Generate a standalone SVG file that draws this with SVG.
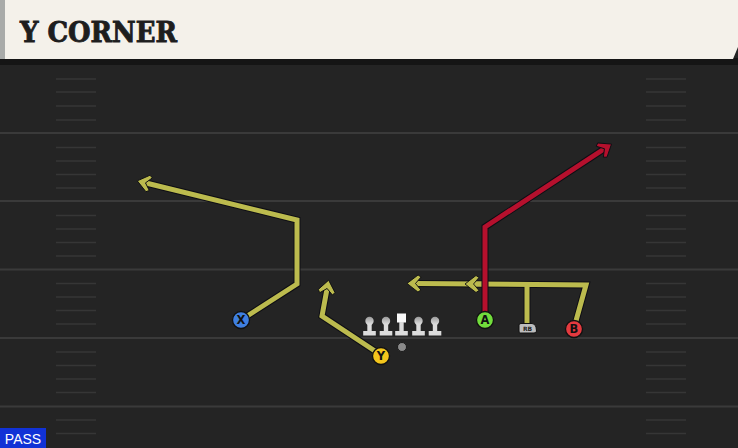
<svg xmlns="http://www.w3.org/2000/svg" width="738" height="448" viewBox="0 0 738 448">
<defs>
<style>
.yl{stroke:#3a3a3a;stroke-width:2}
.hm{stroke:#363636;stroke-width:1.5}
.o{fill:none;stroke:#0e0e14;stroke-width:7;stroke-linejoin:miter;stroke-linecap:butt}
.ry{fill:none;stroke:#bcbb4e;stroke-width:5;stroke-linejoin:miter}
.rr{fill:none;stroke:#b5102d;stroke-width:5;stroke-linejoin:miter}
.lt{font-family:"DejaVu Sans","Liberation Sans",sans-serif;font-weight:bold;font-size:11.5px;fill:#111;text-anchor:middle}
</style>
<marker id="ay" markerUnits="userSpaceOnUse" markerWidth="28" markerHeight="28" viewBox="-14 -14 28 28" refX="-3" refY="0" orient="auto">
<path d="M6,0 L-5,-8.5 L-8,-6.5 L-2.5,0 L-8,6.5 L-5,8.5 Z" fill="#bcbb4e" stroke="#0e0e14" stroke-width="0.9" stroke-linejoin="miter"/>
</marker>
<marker id="ar" markerUnits="userSpaceOnUse" markerWidth="28" markerHeight="28" viewBox="-14 -14 28 28" refX="-3" refY="0" orient="auto">
<path d="M6,0 L-5,-8.5 L-8,-6.5 L-2.5,0 L-8,6.5 L-5,8.5 Z" fill="#b5102d" stroke="#0e0e14" stroke-width="0.9" stroke-linejoin="miter"/>
</marker>
<linearGradient id="hg" x1="0" y1="0" x2="0" y2="1">
<stop offset="0" stop-color="#9a9a9a"/><stop offset="1" stop-color="#e6e6e6"/>
</linearGradient>
<g id="lm">
<circle cx="0" cy="-10" r="4.2" fill="url(#hg)"/>
<rect x="-2.2" y="-7" width="4.4" height="8" fill="#dcdcdc"/>
<rect x="-6.3" y="0" width="12.6" height="4.5" fill="#dcdcdc"/>
</g>
</defs>
<rect width="738" height="448" fill="#242424"/>
<g id="field">
<rect x="0" y="58" width="738" height="7" fill="#151515"/>
<line class="yl" x1="0" y1="133" x2="738" y2="133"/>
<line class="yl" x1="0" y1="201" x2="738" y2="201"/>
<line class="yl" x1="0" y1="269.5" x2="738" y2="269.5"/>
<line class="yl" x1="0" y1="338" x2="738" y2="338"/>
<line class="yl" x1="0" y1="406.5" x2="738" y2="406.5"/>
<g class="hm">
<line x1="56" y1="79" x2="96" y2="79"/><line x1="56" y1="92" x2="96" y2="92"/><line x1="56" y1="106" x2="96" y2="106"/><line x1="56" y1="120" x2="96" y2="120"/>
<line x1="56" y1="147.5" x2="96" y2="147.5"/><line x1="56" y1="161" x2="96" y2="161"/><line x1="56" y1="174.5" x2="96" y2="174.5"/><line x1="56" y1="188" x2="96" y2="188"/>
<line x1="56" y1="215.5" x2="96" y2="215.5"/><line x1="56" y1="229" x2="96" y2="229"/><line x1="56" y1="242.5" x2="96" y2="242.5"/><line x1="56" y1="256" x2="96" y2="256"/>
<line x1="56" y1="283.5" x2="96" y2="283.5"/><line x1="56" y1="297" x2="96" y2="297"/><line x1="56" y1="310.5" x2="96" y2="310.5"/><line x1="56" y1="324" x2="96" y2="324"/>
<line x1="56" y1="352" x2="96" y2="352"/><line x1="56" y1="365.5" x2="96" y2="365.5"/><line x1="56" y1="379" x2="96" y2="379"/><line x1="56" y1="392.5" x2="96" y2="392.5"/>
<line x1="56" y1="420" x2="96" y2="420"/><line x1="56" y1="433.5" x2="96" y2="433.5"/>
<line x1="646" y1="79" x2="686" y2="79"/><line x1="646" y1="92" x2="686" y2="92"/><line x1="646" y1="106" x2="686" y2="106"/><line x1="646" y1="120" x2="686" y2="120"/>
<line x1="646" y1="147.5" x2="686" y2="147.5"/><line x1="646" y1="161" x2="686" y2="161"/><line x1="646" y1="174.5" x2="686" y2="174.5"/><line x1="646" y1="188" x2="686" y2="188"/>
<line x1="646" y1="215.5" x2="686" y2="215.5"/><line x1="646" y1="229" x2="686" y2="229"/><line x1="646" y1="242.5" x2="686" y2="242.5"/><line x1="646" y1="256" x2="686" y2="256"/>
<line x1="646" y1="283.5" x2="686" y2="283.5"/><line x1="646" y1="297" x2="686" y2="297"/><line x1="646" y1="310.5" x2="686" y2="310.5"/><line x1="646" y1="324" x2="686" y2="324"/>
<line x1="646" y1="352" x2="686" y2="352"/><line x1="646" y1="365.5" x2="686" y2="365.5"/><line x1="646" y1="379" x2="686" y2="379"/><line x1="646" y1="392.5" x2="686" y2="392.5"/>
<line x1="646" y1="420" x2="686" y2="420"/><line x1="646" y1="433.5" x2="686" y2="433.5"/>
</g>
</g>
<g id="header">
<path d="M0,0 H738 V47 L733,59 H0 Z" fill="#f4f1ea"/>
<rect x="0" y="0" width="5" height="59" fill="#a9aba9"/>
<text x="20" y="42" font-family="'DejaVu Serif','Liberation Serif',serif" font-weight="bold" font-size="27" fill="#1e1e1e" stroke="#1e1e1e" stroke-width="0.9" textLength="157" lengthAdjust="spacingAndGlyphs">Y CORNER</text>
</g>
<g id="connectors">
<path class="o" d="M241,320 L297,284 L297,220 L146,183"/>
<path class="ry" d="M241,320 L297,284 L297,220 L146,183" marker-end="url(#ay)"/>
<path class="o" d="M381,355 L322,316 L327,289"/>
<path class="ry" d="M381,355 L322,316 L327,289" marker-end="url(#ay)"/>
<path class="o" d="M574,328 L586,285 L416,283.5"/>
<path class="o" d="M527,328 L527,284.5"/>
<path class="ry" d="M527,328 L527,284.5"/>
<path class="ry" d="M574,328 L586,285 L416,283.5" marker-end="url(#ay)"/>
<path class="ry" d="M485,284 L474,284" marker-end="url(#ay)"/>
<path class="o" d="M485,320 L485,227 L604,149"/>
<path class="rr" d="M485,320 L485,227 L604,149" marker-end="url(#ar)"/>
</g>
<g id="line">
<use href="#lm" x="369.5" y="331"/>
<use href="#lm" x="386" y="331"/>
<g id="center">
<rect x="397" y="313.5" width="9" height="9" fill="#fafafa"/>
<rect x="399.3" y="322" width="4.4" height="9" fill="#dcdcdc"/>
<rect x="395.2" y="331" width="12.6" height="4.5" fill="#dcdcdc"/>
</g>
<use href="#lm" x="418.5" y="331"/>
<use href="#lm" x="435" y="331"/>
</g>
<g id="qb"><circle cx="402" cy="347" r="4.5" fill="#8a8a8a" stroke="#1a1a1a" stroke-width="1"/></g>
<g id="X"><circle cx="241" cy="320" r="8.5" fill="#3f7fe0" stroke="#111" stroke-width="1.3"/><text class="lt" x="241" y="324.2">X</text></g>
<g id="Y"><circle cx="381" cy="356" r="8.5" fill="#f3c51c" stroke="#111" stroke-width="1.3"/><text class="lt" x="381" y="360.2">Y</text></g>
<g id="A"><circle cx="485" cy="320" r="8.5" fill="#72dd3c" stroke="#111" stroke-width="1.3"/><text class="lt" x="485" y="324.2">A</text></g>
<g id="B"><circle cx="574" cy="329" r="8.5" fill="#e43a3f" stroke="#111" stroke-width="1.3"/><text class="lt" x="574" y="333.2">B</text></g>
<g id="RB"><path d="M519,325 Q519,323.5 521,323.5 H532 Q535,323.5 536,327 L536.5,331 Q536.5,333 534,333 H520 Q519,333 519,331 Z" fill="#bdbdbd" stroke="#111" stroke-width="1"/><text x="527.5" y="331" font-family="'DejaVu Sans',sans-serif" font-size="6" font-weight="bold" fill="#222" text-anchor="middle">RB</text></g>
<g id="pass"><rect x="0" y="428" width="46" height="20" fill="#1132d6"/><text x="23" y="444" font-family="'Liberation Sans',Arial,sans-serif" font-size="14" fill="#ffffff" text-anchor="middle">PASS</text></g>
</svg>
